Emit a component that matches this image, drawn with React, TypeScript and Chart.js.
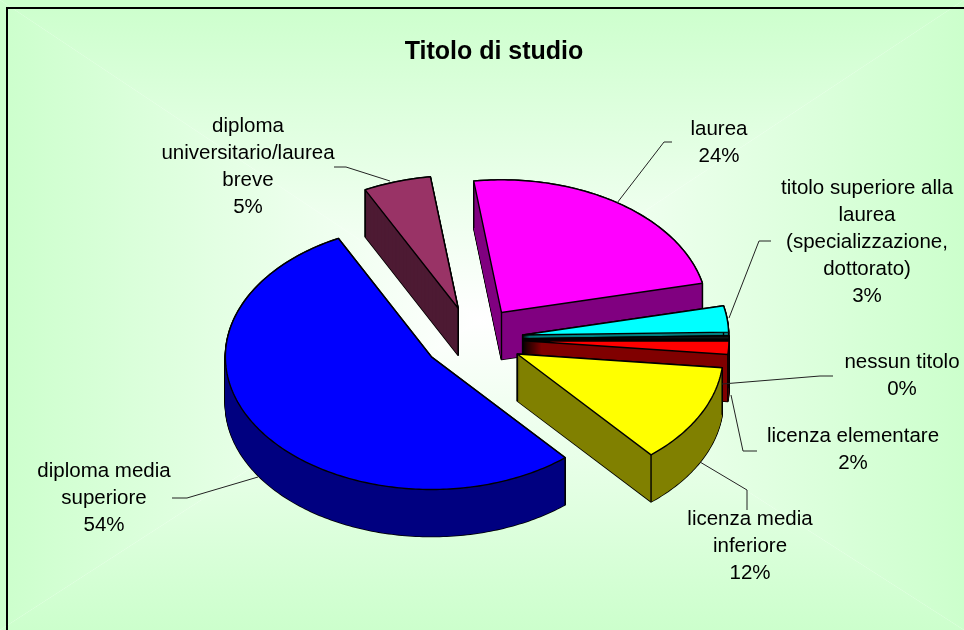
import React, { useEffect, useRef } from "react";
import { Chart, registerables } from "chart.js";

Chart.register(...registerables);

const TITLE = "Titolo di studio";
const categories = [
  "diploma media superiore",
  "diploma universitario/laurea breve",
  "laurea",
  "titolo superiore alla laurea (specializzazione, dottorato)",
  "nessun titolo",
  "licenza elementare",
  "licenza media inferiore",
];
const shares = [53.8, 5.3, 23.6, 3.2, 0.4, 1.6, 12.1];
const topColors = ["#0000FF", "#993366", "#FF00FF", "#00FFFF", "#111111", "#FF0000", "#FFFF00"];
const sideColors = ["#000080", "#4D1A33", "#800080", "#008080", "#000000", "#800000", "#808000"];

const labelLines = [
  ["diploma media", "superiore"],
  ["diploma", "universitario/laurea", "breve"],
  ["laurea"],
  ["titolo superiore alla", "laurea", "(specializzazione,", "dottorato)"],
  ["nessun titolo"],
  ["licenza elementare"],
  ["licenza media", "inferiore"],
];
const labelAnchors = [
  [104, 471],
  [248, 126],
  [719, 129],
  [867, 188],
  [902, 362],
  [853, 436],
  [750, 519],
];
const leaderPaths = [
  [[172, 498], [187, 498], [258, 477]],
  [[334, 167], [346, 167], [390, 181]],
  [[672, 142], [664, 142], [617, 203]],
  [[771, 241], [759, 241], [729, 318]],
  [[833, 376], [820, 376], [722, 384]],
  [[757, 451], [743, 451], [731, 395]],
  [[747, 510], [747, 490], [700, 462]],
];

const CX = 473;
const CY = 339;
const SQUASH = 0.644;
const DEPTH = 47;
const RADIUS = 206;
const EXPLODE = 50;
const FONT = '"Liberation Sans", Arial, sans-serif';

function arcShift(arc: any) {
  const p = arc.getProps(["startAngle", "endAngle"], true);
  const mid = (p.startAngle + p.endAngle) / 2;
  return [Math.cos(mid) * EXPLODE, Math.sin(mid) * EXPLODE];
}

function wedgePoints(arc: any, chartCx: number, chartCy: number) {
  const p = arc.getProps(["x", "y", "startAngle", "endAngle", "outerRadius"], true);
  const [sx, sy] = arcShift(arc);
  const proj = (x: number, y: number) => [x - chartCx + CX, (y - chartCy) * SQUASH + CY];
  const ax = p.x + sx;
  const ay = p.y + sy;
  const pts: number[][] = [proj(ax, ay)];
  const steps = Math.max(2, Math.ceil((p.endAngle - p.startAngle) * 60));
  for (let i = 0; i <= steps; i++) {
    const a = p.startAngle + ((p.endAngle - p.startAngle) * i) / steps;
    pts.push(proj(ax + Math.cos(a) * p.outerRadius, ay + Math.sin(a) * p.outerRadius));
  }
  return pts;
}

function tracePoly(ctx: CanvasRenderingContext2D, pts: number[][], dy: number) {
  ctx.beginPath();
  pts.forEach((q, i) => (i ? ctx.lineTo(q[0], q[1] + dy) : ctx.moveTo(q[0], q[1] + dy)));
  ctx.closePath();
}

function paintBackground(ctx: CanvasRenderingContext2D, w: number, h: number) {
  const fx = 480;
  const fy = 320;
  const faces: [number, number, number, number, number, number][] = [
    [0, 0, w, 0, fx, 0],
    [w, 0, w, h, w, fy],
    [w, h, 0, h, fx, h],
    [0, h, 0, 0, 0, fy],
  ];
  faces.forEach(([x1, y1, x2, y2, ex, ey]) => {
    ctx.save();
    ctx.beginPath();
    ctx.moveTo(x1, y1);
    ctx.lineTo(x2, y2);
    ctx.lineTo(fx, fy);
    ctx.closePath();
    ctx.clip();
    const g = ctx.createLinearGradient(ex, ey, fx, fy);
    g.addColorStop(0, "#CCFFCC");
    g.addColorStop(1, "#FFFFFF");
    ctx.fillStyle = g;
    ctx.fillRect(0, 0, w, h);
    ctx.restore();
  });
  ctx.strokeStyle = "#000000";
  ctx.lineWidth = 2;
  ctx.beginPath();
  ctx.moveTo(7, h);
  ctx.lineTo(7, 8);
  ctx.lineTo(w, 8);
  ctx.stroke();
}

const pie3d = {
  id: "pie3d",
  beforeDraw(chart: any) {
    paintBackground(chart.ctx, chart.width, chart.height);
  },
  beforeDatasetsDraw(chart: any) {
    const ctx = chart.ctx as CanvasRenderingContext2D;
    const arcs = chart.getDatasetMeta(0).data as any[];
    const cx = (chart.chartArea.left + chart.chartArea.right) / 2;
    const cy = (chart.chartArea.top + chart.chartArea.bottom) / 2;
    const order = arcs
      .map((arc, i) => ({ i, arc, pts: wedgePoints(arc, cx, cy) }))
      .sort((a, b) => a.pts[0][1] - b.pts[0][1]);
    ctx.save();
    ctx.lineJoin = "round";
    order.forEach(({ i, pts }) => {
      ctx.strokeStyle = "#000000";
      ctx.lineWidth = 1.6;
      for (let d = DEPTH; d >= 0; d -= 1) {
        tracePoly(ctx, pts, d);
        ctx.stroke();
      }
      ctx.fillStyle = sideColors[i];
      for (let d = DEPTH; d >= 0; d -= 1) {
        tracePoly(ctx, pts, d);
        ctx.fill();
      }
      ctx.lineWidth = 1.4;
      [pts[0], pts[1], pts[pts.length - 1]].forEach((q) => {
        ctx.beginPath();
        ctx.moveTo(q[0], q[1]);
        ctx.lineTo(q[0], q[1] + DEPTH);
        ctx.stroke();
      });
    });
    ctx.restore();
    order.forEach(({ arc, pts }) => {
      const [sx, sy] = arcShift(arc);
      ctx.save();
      ctx.translate(CX - cx, CY);
      ctx.scale(1, SQUASH);
      ctx.translate(sx, sy - cy);
      arc.draw(ctx);
      ctx.restore();
      ctx.save();
      ctx.strokeStyle = "#000000";
      ctx.lineWidth = 1.4;
      ctx.lineJoin = "round";
      tracePoly(ctx, pts, 0);
      ctx.stroke();
      ctx.restore();
    });
    return false;
  },
  afterDraw(chart: any) {
    const ctx = chart.ctx as CanvasRenderingContext2D;
    const total = shares.reduce((a, b) => a + b, 0);
    ctx.save();
    ctx.strokeStyle = "#222222";
    ctx.lineWidth = 1;
    leaderPaths.forEach((path) => {
      ctx.beginPath();
      path.forEach((q, i) => (i ? ctx.lineTo(q[0], q[1]) : ctx.moveTo(q[0], q[1])));
      ctx.stroke();
    });
    ctx.fillStyle = "#000000";
    ctx.font = `20.5px ${FONT}`;
    ctx.textAlign = "center";
    ctx.textBaseline = "middle";
    labelLines.forEach((lines, i) => {
      const all = [...lines, `${Math.round((shares[i] / total) * 100)}%`];
      all.forEach((t, k) => ctx.fillText(t, labelAnchors[i][0], labelAnchors[i][1] + k * 27));
    });
    ctx.restore();
  },
};

export default function App() {
  const ref = useRef<HTMLCanvasElement>(null);
  useEffect(() => {
    const chart = new Chart(ref.current as HTMLCanvasElement, {
      type: "pie",
      data: {
        labels: categories,
        datasets: [
          {
            data: shares,
            backgroundColor: topColors,
            borderWidth: 0,
          } as any,
        ],
      },
      options: {
        animation: false,
        responsive: false,
        rotation: 139.5,
        radius: RADIUS,
        layout: { padding: { left: 24, right: 0, top: 0, bottom: 0 } },
        plugins: {
          legend: { display: false },
          tooltip: { enabled: false },
          title: {
            display: true,
            text: TITLE,
            color: "#000000",
            font: { family: FONT, size: 25, weight: "bold" },
            padding: { top: 37, bottom: 10 },
          },
        },
      } as any,
      plugins: [pie3d],
    });
    return () => chart.destroy();
  }, []);
  return (
    <div style={{ position: "absolute", left: 0, top: 0, width: 964, height: 630 }}>
      <canvas ref={ref} width={964} height={630} style={{ display: "block" }} />
    </div>
  );
}
